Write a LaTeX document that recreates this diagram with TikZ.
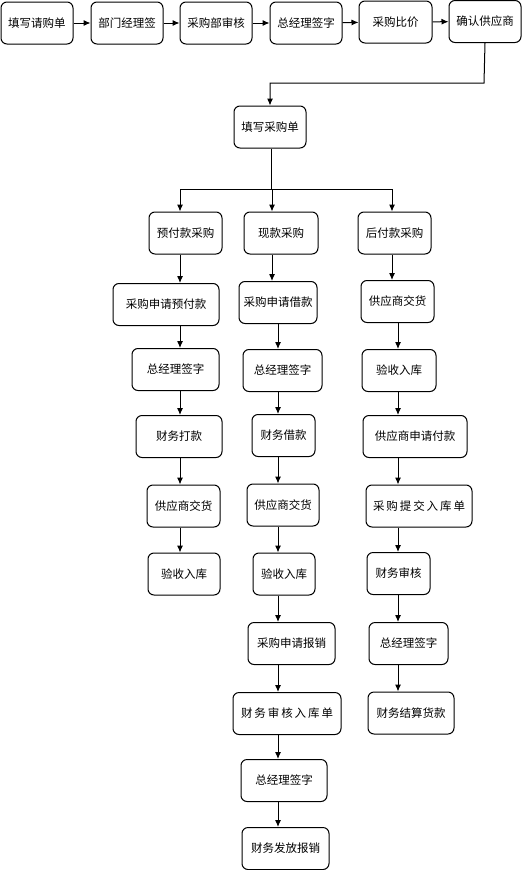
\documentclass[tikz,border=0pt]{standalone}
\usepackage{fontspec}
\usepackage{tikz}
\usetikzlibrary{arrows.meta}
\newfontfamily\cjk{Noto Sans CJK SC}

\tikzset{
  stepbox/.style={draw, line width=1pt, rounded corners=6pt, fill=white, align=center,
    minimum height=42pt, inner sep=2pt, font=\cjk\fontsize{11.5}{13}\selectfont},
  flow/.style={-{Latex[length=7pt,width=6pt]}, line width=1pt},
  link/.style={line width=1pt}
}

\begin{document}
\begin{tikzpicture}[x=1pt,y=-1pt]

\useasboundingbox (0,0) rectangle (526,870);

% Top row
\node[stepbox, minimum width=72pt] (qinggou) at (37,23) {填写请购单};
\node[stepbox, minimum width=72pt] (bumen) at (127,23) {部门经理签};
\node[stepbox, minimum width=72pt] (bushen) at (216,23) {采购部审核};
\node[stepbox, minimum width=72pt] (zjlTop) at (306,23) {总经理签字};
\node[stepbox, minimum width=73pt] (bijia) at (395.5,22) {采购比价};
\node[stepbox, minimum width=72pt] (queren) at (485,21.5) {确认供应商};

\draw[flow] (qinggou) -- (bumen);
\draw[flow] (bumen) -- (bushen);
\draw[flow] (bushen) -- (zjlTop);
\draw[flow] (zjlTop) -- (bijia);
\draw[flow] (bijia) -- (queren);

% Purchase order
\node[stepbox, minimum width=72pt] (caidan) at (270,127) {填写采购单};
\draw[flow] (queren.south) -- (484,83) -| (caidan.north);

% Column positions for the arrows
\coordinate (colL) at (180,0);
\coordinate (colM) at (272,0);
\coordinate (colMb) at (278,0);
\coordinate (colR) at (392,0);
\coordinate (colRb) at (398,0);
\coordinate (fork) at (271,189);

% Left column: prepaid
\node[stepbox, minimum width=73pt] (yufu) at (185.5,233) {预付款采购};
\node[stepbox, minimum width=106pt] (shenqingyufu) at (166,304.5) {采购申请预付款};
\node[stepbox, minimum width=87pt] (zjlL) at (175.5,369.5) {总经理签字};
\node[stepbox, minimum width=86pt] (dakuan) at (179,436.5) {财务打款};
\node[stepbox, minimum width=73pt] (jiaohuoL) at (183.5,506) {供应商交货};
\node[stepbox, minimum width=72pt] (yanshouL) at (184,574) {验收入库};

% Middle column: cash
\node[stepbox, minimum width=74pt] (xiankuan) at (281,233) {现款采购};
\node[stepbox, minimum width=78pt] (jiekuan) at (278,302.5) {采购申请借款};
\node[stepbox, minimum width=79pt] (zjlM) at (282.5,370.5) {总经理签字};
\node[stepbox, minimum width=63pt] (caiwujie) at (283.5,435.5) {财务借款};
\node[stepbox, minimum width=72pt] (jiaohuoM) at (283,505) {供应商交货};
\node[stepbox, minimum width=62pt] (yanshouM) at (284,574) {验收入库};
\node[stepbox, minimum width=87pt] (baoxiao) at (291.5,643.5) {采购申请报销};
\node[stepbox, minimum width=108pt] (rukushen) at (287,713.5) {财\,务\,审\,核\,入\,库\,单};
\node[stepbox, minimum width=86pt] (zjlM2) at (284,780.5) {总经理签字};
\node[stepbox, minimum width=87pt] (fafang) at (285.5,848.5) {财务发放报销};

% Right column: postpaid
\node[stepbox, minimum width=73pt] (houfu) at (394.5,233) {后付款采购};
\node[stepbox, minimum width=73pt] (jiaohuoR) at (397.5,301.5) {供应商交货};
\node[stepbox, minimum width=74pt] (yanshouR) at (399,370.5) {验收入库};
\node[stepbox, minimum width=104pt] (fukuan) at (415,436.5) {供应商申请付款};
\node[stepbox, minimum width=106pt] (tijiao) at (419,506) {采\,购\,提\,交\,入\,库\,单};
\node[stepbox, minimum width=63pt] (caiwushen) at (398.5,573.5) {财务审核};
\node[stepbox, minimum width=79pt] (zjlR) at (408.5,643.5) {总经理签字};
\node[stepbox, minimum width=86pt] (jiesuan) at (411,713) {财务结算货款};

% Fork into three branches
\draw[link] (caidan.south -| fork) -- (fork);
\draw[link] (fork -| colL) -- (fork -| colR);
\draw[flow] (fork -| colL) -- (yufu.north -| colL);
\draw[flow] (fork -| colM) -- (xiankuan.north -| colM);
\draw[flow] (fork -| colR) -- (houfu.north -| colR);

% Left arrows
\draw[flow] (yufu.south -| colL) -- (shenqingyufu.north -| colL);
\draw[flow] (shenqingyufu.south -| colL) -- (zjlL.north -| colL);
\draw[flow] (zjlL.south -| colL) -- (dakuan.north -| colL);
\draw[flow] (dakuan.south -| colL) -- (jiaohuoL.north -| colL);
\draw[flow] (jiaohuoL.south -| colL) -- (yanshouL.north -| colL);

% Middle arrows
\draw[flow] (xiankuan.south -| colM) -- (jiekuan.north -| colM);
\draw[flow] (jiekuan.south -| colMb) -- (zjlM.north -| colMb);
\draw[flow] (zjlM.south -| colMb) -- (caiwujie.north -| colMb);
\draw[flow] (caiwujie.south -| colMb) -- (jiaohuoM.north -| colMb);
\draw[flow] (jiaohuoM.south -| colMb) -- (yanshouM.north -| colMb);
\draw[flow] (yanshouM.south -| colMb) -- (baoxiao.north -| colMb);
\draw[flow] (baoxiao.south -| colMb) -- (rukushen.north -| colMb);
\draw[flow] (rukushen.south -| colMb) -- (zjlM2.north -| colMb);
\draw[flow] (zjlM2.south -| colMb) -- (fafang.north -| colMb);

% Right arrows
\draw[flow] (houfu.south -| colR) -- (jiaohuoR.north -| colR);
\draw[flow] (jiaohuoR.south -| colRb) -- (yanshouR.north -| colRb);
\draw[flow] (yanshouR.south -| colRb) -- (fukuan.north -| colRb);
\draw[flow] (fukuan.south -| colRb) -- (tijiao.north -| colRb);
\draw[flow] (tijiao.south -| colRb) -- (caiwushen.north -| colRb);
\draw[flow] (caiwushen.south -| colRb) -- (zjlR.north -| colRb);
\draw[flow] (zjlR.south -| colRb) -- (jiesuan.north -| colRb);

\end{tikzpicture}
\end{document}
